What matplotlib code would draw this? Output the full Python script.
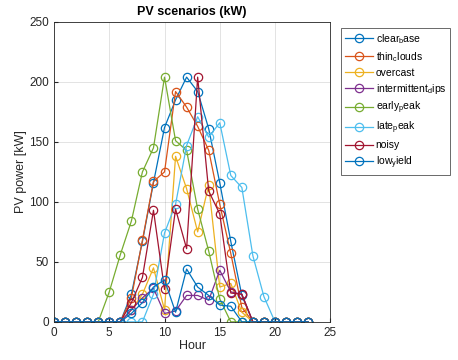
import numpy as np
import matplotlib.pyplot as plt

plt.rcParams['font.family'] = 'sans-serif'
plt.rcParams['font.sans-serif'] = ['Liberation Sans', 'DejaVu Sans']
plt.rcParams['mathtext.default'] = 'regular'

# data (kW per hour, 0..23)
hours = list(range(24))

clear_base = [0, 0, 0, 0, 0, 0, 0, 23, 67, 116, 162, 185, 204, 192, 161, 116, 67, 22, 0, 0, 0, 0, 0, 0]
thin_clouds = [0, 0, 0, 0, 0, 0, 0, 20, 68, 117, 125, 192, 179, 163, 143, 98, 57, 12, 0, 0, 0, 0, 0, 0]
overcast = [0, 0, 0, 0, 0, 0, 0, 10, 23, 45, 10, 138, 111, 75, 114, 29, 32, 8, 0, 0, 0, 0, 0, 0]
intermittent_dips = [0, 0, 0, 0, 0, 0, 0, 10, 20, 28, 7, 9, 22, 22, 18, 43, 25, 23, 0, 0, 0, 0, 0, 0]
early_peak = [0, 0, 0, 0, 0, 25, 56, 84, 125, 145, 204, 151, 143, 94, 59, 19, 0, 0, 0, 0, 0, 0, 0, 0]
late_peak = [0, 0, 0, 0, 0, 0, 0, 0, 0, 23, 74, 98, 147, 171, 154, 166, 122, 112, 55, 21, 0, 0, 0, 0]
noisy = [0, 0, 0, 0, 0, 0, 0, 16, 37, 93, 27, 94, 61, 204, 109, 90, 24, 23, 0, 0, 0, 0, 0, 0]
low_yield = [0, 0, 0, 0, 0, 0, 0, 7, 16, 29, 35, 8, 44, 29, 22, 14, 13, 0, 0, 0, 0, 0, 0, 0]

series = [clear_base, thin_clouds, overcast, intermittent_dips,
          early_peak, late_peak, noisy, low_yield]
labels = ['clear$_b$ase', 'thin$_c$louds', 'overcast', 'intermittent$_d$ips',
          'early$_p$eak', 'late$_p$eak', 'noisy', 'low$_y$ield']
# matlab default line colours (8th wraps back to the first)
colors = ['#0072BD', '#D95319', '#EDB120', '#7E2F8E',
          '#77AC30', '#4DBEEE', '#A2142F', '#0072BD']

fig = plt.figure(figsize=(4.58, 3.6), dpi=100)
ax = fig.add_axes([0.118, 0.106, 0.603, 0.833])

for vals, lab, col in zip(series, labels, colors):
    ax.plot(hours, vals, color=col, linewidth=0.9, marker='o',
            markersize=6, markerfacecolor='none', markeredgewidth=0.9, label=lab)

ax.set_xlim(0, 25)
ax.set_ylim(0, 250)
ax.set_xticks(range(0, 26, 5))
ax.set_yticks(range(0, 251, 50))
ax.tick_params(direction='in', labelsize=8.5, length=3, colors='#262626')
ax.grid(True, color='#262626', alpha=0.15, linewidth=0.6)
for sp in ax.spines.values():
    sp.set_color('#262626')
    sp.set_linewidth(0.6)

ax.set_title('PV scenarios (kW)', fontsize=9, fontweight='bold', pad=5)
ax.set_xlabel('Hour', fontsize=9, color='#262626', labelpad=1)
ax.set_ylabel('PV power [kW]', fontsize=9, color='#262626', labelpad=2)

leg = ax.legend(loc='upper left', bbox_to_anchor=(1.04, 0.98), fontsize=7.5,
                frameon=True, fancybox=False, edgecolor='#262626',
                handlelength=2.6, labelspacing=0.38, borderpad=0.4,
                handletextpad=0.3, borderaxespad=0)
leg.get_frame().set_linewidth(0.6)

fig.savefig('out.png', dpi=100)
